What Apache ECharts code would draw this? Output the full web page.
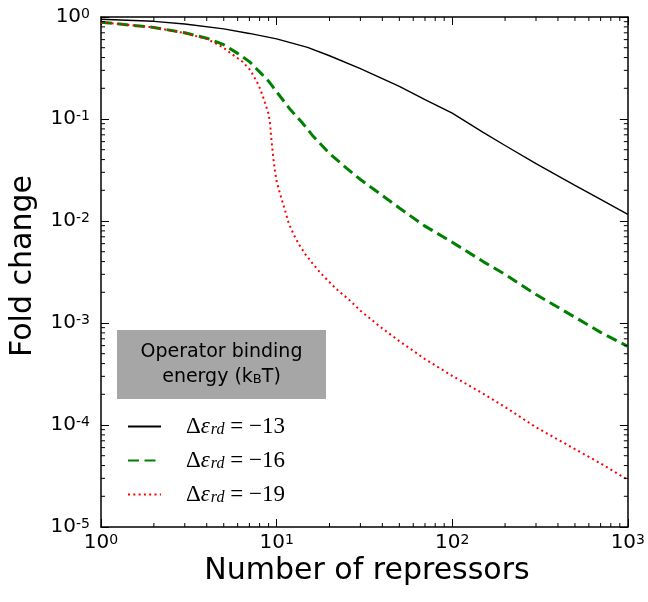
<!DOCTYPE html>
<html>
<head>
<meta charset="utf-8">
<script src="https://cdn.jsdelivr.net/npm/echarts@6/dist/echarts.min.js"></script>
<style>
html,body{margin:0;padding:0;background:#fff;}
#chart{width:648px;height:602px;}
</style>
</head>
<body>
<div id="chart"></div>
<script>
// ---- data ----
const energies = [-13, -16, -19];

const repressorsBlack = [1, 2, 3, 5, 7, 10, 15, 20, 30, 50, 70, 100, 150, 200, 300, 500, 700, 1000];
const foldBlack = [0.95, 0.907, 0.855, 0.765, 0.69, 0.61, 0.503, 0.417, 0.312, 0.209, 0.155, 0.114, 0.074, 0.055, 0.0366, 0.0224, 0.0163, 0.0116];

const repressorsGreen = [1, 1.5, 2, 3, 4, 5, 6, 7, 8, 9, 10, 12, 14, 16, 20, 25, 30, 40, 50, 70, 100, 150, 200, 300, 500, 700, 1000];
const foldGreen = [0.89, 0.83, 0.79, 0.70, 0.62, 0.535, 0.44, 0.365, 0.29, 0.235, 0.185, 0.123, 0.092, 0.069, 0.046, 0.033, 0.0255, 0.0178, 0.0134, 0.0089, 0.0062, 0.0040, 0.0030, 0.0019, 0.00114, 0.00081, 0.00059];

const repressorsRed = [1, 1.5, 2, 3, 4, 4.9, 5.6, 6.4, 7.1, 7.9, 8.3, 8.7, 9.0, 9.2, 9.3, 9.45, 9.6, 9.8, 10, 10.3, 10.7, 11.2, 11.7, 12.5, 13.4, 14.6, 16, 17.7, 20, 22.5, 25.7, 30, 40, 50, 70, 100, 150, 200, 300, 500, 700, 1000];
const foldRed = [0.89, 0.83, 0.79, 0.695, 0.61, 0.51, 0.43, 0.364, 0.30, 0.215, 0.172, 0.135, 0.112, 0.0875, 0.0673, 0.0518, 0.0399, 0.0306, 0.0245, 0.0203, 0.0162, 0.0125, 0.00958, 0.00738, 0.0059, 0.00471, 0.00385, 0.00312, 0.00252, 0.00206, 0.00171, 0.00132, 0.000885, 0.000664, 0.000443, 0.000303, 0.000203, 0.00015, 0.000095, 0.000058, 0.000042, 0.000029];

const xMinorTicks = [2,3,4,5,6,7,8,9,20,30,40,50,60,70,80,90,200,300,400,500,600,700,800,900];
const yMinorTicks = [];
[1e-5, 1e-4, 1e-3, 1e-2, 1e-1].forEach(function (d) {
  for (let k = 2; k <= 9; k++) yMinorTicks.push(d * k);
});

const xRange = [1, 1000];
const yRange = [1e-5, 1];

// ---- chart ----
const chart = echarts.init(document.getElementById('chart'), null, {renderer: 'canvas'});
const sansFont = 'DejaVu Sans';
const serifFont = 'Liberation Serif';

function zip(xs, ys) { return xs.map(function (x, i) { return [x, ys[i]]; }); }
function seriesName(e) { return 'Δε_rd = −' + Math.abs(e); }

const tickLabelRich = {
  b: {fontFamily: sansFont, fontSize: 20, lineHeight: 20, padding: [7, 0, 0, 0], verticalAlign: 'bottom', color: '#000'},
  s: {fontFamily: sansFont, fontSize: 14, lineHeight: 14, verticalAlign: 'top', color: '#000'}
};
function powLabel(v) {
  const e = Math.round(Math.log10(v));
  return '{b|10}{s|' + e + '}';
}

const axisCommon = {
  type: 'log',
  logBase: 10,
  axisLine: {show: true, onZero: false, lineStyle: {color: '#000', width: 1.5}},
  axisTick: {show: true, inside: true, length: 8, lineStyle: {color: '#000', width: 1}},
  splitLine: {show: false},
  minorTick: {show: false},
  minorSplitLine: {show: false}
};

function minorTickSeries(values, isX) {
  return {
    type: 'custom',
    silent: true,
    clip: false,
    z: 5,
    xAxisIndex: 0,
    yAxisIndex: 0,
    data: values.map(function (v) { return isX ? [v, yRange[1]] : [xRange[0], v]; }),
    renderItem: function (params, api) {
      const v = api.value(isX ? 0 : 1);
      let a, b;
      if (isX) {
        a = api.coord([v, yRange[0]]);
        b = api.coord([v, yRange[1]]);
        return {type: 'group', children: [
          {type: 'line', shape: {x1: a[0], y1: a[1], x2: a[0], y2: a[1] - 4}, style: {stroke: '#000', lineWidth: 1}},
          {type: 'line', shape: {x1: b[0], y1: b[1], x2: b[0], y2: b[1] + 4}, style: {stroke: '#000', lineWidth: 1}}
        ]};
      } else {
        a = api.coord([xRange[0], v]);
        b = api.coord([xRange[1], v]);
        return {type: 'group', children: [
          {type: 'line', shape: {x1: a[0], y1: a[1], x2: a[0] + 4, y2: a[1]}, style: {stroke: '#000', lineWidth: 1}},
          {type: 'line', shape: {x1: b[0], y1: b[1], x2: b[0] - 4, y2: b[1]}, style: {stroke: '#000', lineWidth: 1}}
        ]};
      }
    }
  };
}

const option = {
  backgroundColor: '#fff',
  animation: false,
  grid: {left: 101, top: 15, width: 530, height: 512, containLabel: false},
  xAxis: [
    Object.assign({}, axisCommon, {
      position: 'bottom', min: xRange[0], max: xRange[1], splitNumber: 3,
      axisLabel: {show: true, margin: 6, formatter: powLabel, rich: tickLabelRich}
    }),
    Object.assign({}, axisCommon, {
      position: 'top', min: xRange[0], max: xRange[1], splitNumber: 3,
      axisLabel: {show: false}
    })
  ],
  yAxis: [
    Object.assign({}, axisCommon, {
      position: 'left', min: yRange[0], max: yRange[1], splitNumber: 5,
      axisLabel: {show: true, margin: 11, formatter: powLabel, rich: tickLabelRich}
    }),
    Object.assign({}, axisCommon, {
      position: 'right', min: yRange[0], max: yRange[1], splitNumber: 5,
      axisLabel: {show: false}
    })
  ],
  legend: {
    show: true,
    orient: 'vertical',
    left: 122,
    top: 410,
    itemWidth: 33,
    itemHeight: 14,
    itemGap: 8,
    data: energies.map(seriesName),
    selectedMode: false,
    itemStyle: {opacity: 0, borderWidth: 0},
    formatter: function (name) {
      const n = name.split('−')[1];
      return '{m|Δ}{e|ε}{s|rd}{m| = −' + n + '}';
    },
    textStyle: {
      color: '#000',
      padding: [0, 0, 0, 20],
      rich: {
        m: {fontFamily: serifFont, fontSize: 23, lineHeight: 23, padding: [0, 0, 3, 0], verticalAlign: 'top', color: '#000'},
        e: {fontFamily: serifFont, fontStyle: 'italic', fontSize: 23, lineHeight: 23, padding: [0, 1, 3, 0], verticalAlign: 'top', color: '#000'},
        s: {fontFamily: serifFont, fontStyle: 'italic', fontSize: 16, lineHeight: 16, verticalAlign: 'bottom', color: '#000'}
      }
    }
  },
  graphic: [
    {type: 'rect', left: 117, top: 330, z: 10, shape: {width: 209, height: 69}, style: {fill: '#a6a6a6'}},
    {type: 'text', x: 221.5, y: 352, z: 11, style: {text: 'Operator binding', fontFamily: sansFont, fontSize: 19, fill: '#000', align: 'center', verticalAlign: 'middle'}},
    {type: 'text', x: 221.5, y: 377, z: 11, style: {
      text: '{n|energy (k}{b|B}{n|T)}', align: 'center', verticalAlign: 'middle',
      rich: {
        n: {fontFamily: sansFont, fontSize: 19, lineHeight: 19, padding: [0, 0, 4, 0], verticalAlign: 'top', fill: '#000'},
        b: {fontFamily: sansFont, fontSize: 13, lineHeight: 13, verticalAlign: 'bottom', fill: '#000'}
      }
    }},
    {type: 'text', x: 367, y: 571, style: {text: 'Number of repressors', fontFamily: sansFont, fontSize: 30, fill: '#000', align: 'center', verticalAlign: 'middle'}},
    {type: 'text', x: 23, y: 266, rotation: Math.PI / 2, style: {text: 'Fold change', fontFamily: sansFont, fontSize: 30, fill: '#000', align: 'center', verticalAlign: 'middle'}}
  ],
  series: [
    {
      name: seriesName(energies[0]), type: 'line', xAxisIndex: 0, yAxisIndex: 0,
      data: zip(repressorsBlack, foldBlack), showSymbol: false, symbol: 'none', smooth: false,
      lineStyle: {color: '#000', width: 1.4, type: 'solid'}, itemStyle: {color: '#000'}, z: 3
    },
    {
      name: seriesName(energies[1]), type: 'line', xAxisIndex: 0, yAxisIndex: 0,
      data: zip(repressorsGreen, foldGreen), showSymbol: false, symbol: 'none', smooth: false,
      lineStyle: {color: '#008000', width: 3, type: [11, 5.5], cap: 'butt'}, itemStyle: {color: '#008000'}, z: 3
    },
    {
      name: seriesName(energies[2]), type: 'line', xAxisIndex: 0, yAxisIndex: 0,
      data: zip(repressorsRed, foldRed), showSymbol: false, symbol: 'none', smooth: false,
      lineStyle: {color: '#ff0000', width: 2, type: [2, 3.3], cap: 'butt'}, itemStyle: {color: '#ff0000'}, z: 4
    },
    minorTickSeries(xMinorTicks, true),
    minorTickSeries(yMinorTicks, false)
  ]
};
chart.setOption(option);
</script>
</body>
</html>
